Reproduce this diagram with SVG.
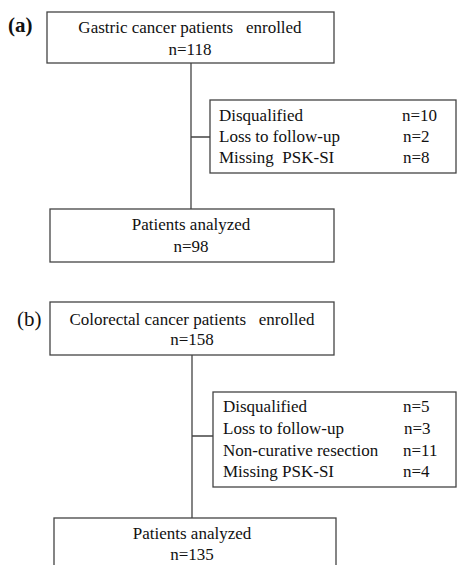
<svg xmlns="http://www.w3.org/2000/svg" width="457" height="565" viewBox="0 0 457 565">
<style>
.box{fill:#fff;stroke:#444;stroke-width:1.3}
.ln{fill:none;stroke:#444;stroke-width:1.3}
text{font-family:"Liberation Serif","Times New Roman",serif;font-size:17px;fill:#111}
.c{text-anchor:middle}
.lab{font-size:21px}
</style>
<rect width="457" height="565" fill="#fff"/>
<g id="connectors">
<path class="ln" d="M191,63V209M191,137H210"/>
<path class="ln" d="M192,355V518M192,436H213"/>
</g>
<text class="lab" x="8" y="32" font-weight="bold">(a)</text>
<g id="a_enrolled">
<rect class="box" x="47" y="12" width="287" height="51"/>
<text class="c" x="190" y="33" xml:space="preserve">Gastric cancer patients   enrolled</text>
<text class="c" x="190" y="55">n=118</text>
</g>
<g id="a_excluded">
<rect class="box" x="210" y="100" width="246" height="73"/>
<text x="219" y="121">Disqualified</text><text x="402" y="121">n=10</text>
<text x="219" y="142">Loss to follow-up</text><text x="403" y="142">n=2</text>
<text x="219" y="163" xml:space="preserve">Missing  PSK-SI</text><text x="403" y="163">n=8</text>
</g>
<g id="a_analyzed">
<rect class="box" x="50" y="209" width="284" height="53"/>
<text class="c" x="191" y="230">Patients analyzed</text>
<text class="c" x="191" y="252">n=98</text>
</g>
<text class="lab" x="17" y="326">(b)</text>
<g id="b_enrolled">
<rect class="box" x="50" y="302" width="284" height="53"/>
<text class="c" x="192" y="325" xml:space="preserve">Colorectal cancer patients   enrolled</text>
<text class="c" x="192" y="345">n=158</text>
</g>
<g id="b_excluded">
<rect class="box" x="213" y="392" width="243" height="95"/>
<text x="223" y="412">Disqualified</text><text x="403" y="412">n=5</text>
<text x="223" y="434">Loss to follow-up</text><text x="404" y="434">n=3</text>
<text x="223" y="456">Non-curative resection</text><text x="403" y="456">n=11</text>
<text x="223" y="477">Missing PSK-SI</text><text x="403" y="477">n=4</text>
</g>
<g id="b_analyzed">
<rect class="box" x="54" y="518" width="282" height="60"/>
<text class="c" x="192" y="539">Patients analyzed</text>
<text class="c" x="192" y="560">n=135</text>
</g>
</svg>
